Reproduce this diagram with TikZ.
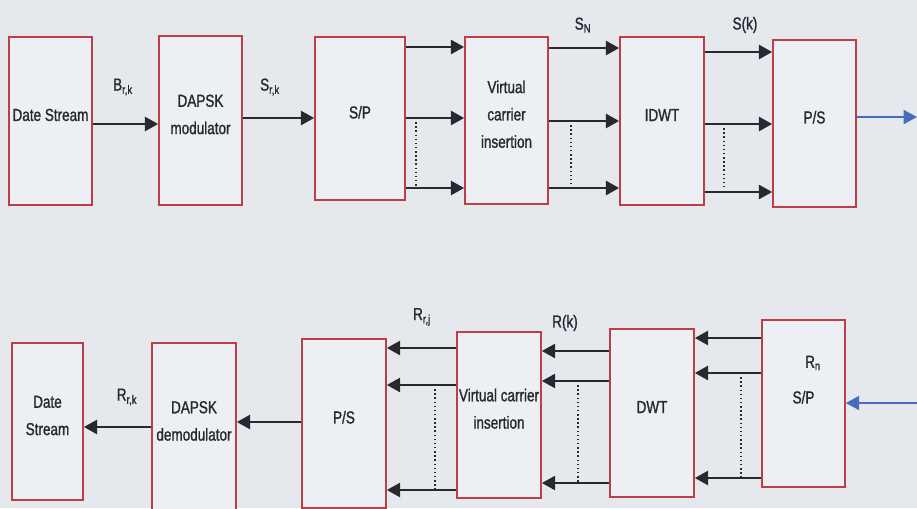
\documentclass[tikz,border=0pt]{standalone}
\usepackage{fontspec}
\setmainfont{Liberation Sans}[FakeStretch=0.78,FakeBold=1.2]
\usetikzlibrary{arrows.meta,fit}

\definecolor{paper}{RGB}{229,233,238}
\definecolor{boxfill}{RGB}{236,239,243}
\definecolor{boxred}{RGB}{190,62,72}
\definecolor{wire}{RGB}{40,40,48}
\definecolor{linkblue}{RGB}{72,108,188}

\tikzset{every picture/.style={line width=0.75pt}}
\tikzset{
  block/.style={draw=boxred, fill=boxfill, line width=1.2pt, inner sep=0pt, align=center, text=wire, font=\fontsize{13}{20.5}\selectfont},
  flow/.style={draw=wire, line width=2pt, -{Triangle[length=10pt,width=10.5pt]}},
  link/.style={draw=linkblue, line width=1.2pt, -{Triangle[length=10pt,width=10.5pt]}},
  tap/.style={draw=wire, dotted, line width=1.1pt},
  sig/.style={inner sep=0.75pt, text=wire, font=\fontsize{13}{14}\selectfont},
}

\begin{document}
\begin{tikzpicture}[x=0.75pt,y=0.75pt,yscale=-1,xscale=1]
\useasboundingbox (0,0) rectangle (917,508);
\fill [paper] (0,0) rectangle (917,508);
\clip (0,0) rectangle (917,508);

%Transmitter blocks
\node [block, fit={(9,37) (92,205)}] (ds) {Date Stream};
\node [block, fit={(159,36) (242,205)}] (mod) {DAPSK\\modulator};
\node [block, fit={(315,37) (405,200)}] (sp) {S/P};
\node [block, fit={(465,37) (548,204)}] (vc) {Virtual\\carrier\\insertion};
\node [block, fit={(620,37) (704,205)}] (idwt) {IDWT};
\node [block, fit={(773,40) (856,207)}] (ps) {P/S};
\coordinate (txout) at (917,117);

%Receiver blocks
\node [block, fit={(12,343) (83,500)}] (ds2) {Date\\Stream};
\node [block, fit={(152,343) (236,511)}] (demod) {DAPSK\\demodulator};
\node [block, fit={(302,339) (386,508)}] (ps2) {P/S};
\node [block, fit={(457,332) (541,498)}] (vc2) {Virtual carrier\\insertion};
\node [block, fit={(610,329) (694,497)}] (dwt) {DWT};
\node [block, fit={(762,320) (845,487)}] (sp2) {S/P};
\coordinate (rxin) at (917,403);

%Transmitter connections
\draw [flow] (ds.east |- 0,124) -- (mod.west |- 0,124);
\draw [flow] (mod.east |- 0,118) -- (sp.west |- 0,118);
\draw [flow] (sp.east |- 0,47) -- (vc.west |- 0,47);
\draw [flow] (sp.east |- 0,118) -- (vc.west |- 0,118);
\draw [flow] (sp.east |- 0,188) -- (vc.west |- 0,188);
\draw [tap] (416,118) -- (416,186);
\draw [flow] (vc.east |- 0,48) -- (idwt.west |- 0,48);
\draw [flow] (vc.east |- 0,121) -- (idwt.west |- 0,121);
\draw [flow] (vc.east |- 0,188) -- (idwt.west |- 0,188);
\draw [tap] (571,121) -- (571,186);
\draw [flow] (idwt.east |- 0,52) -- (ps.west |- 0,52);
\draw [flow] (idwt.east |- 0,124) -- (ps.west |- 0,124);
\draw [flow] (idwt.east |- 0,192) -- (ps.west |- 0,192);
\draw [tap] (724,124) -- (724,190);
\draw [link] (ps.east |- txout) -- (txout);

%Receiver connections
\draw [link] (rxin) -- (rxin -| sp2.east);
\draw [flow] (sp2.west |- 0,338) -- (dwt.east |- 0,338);
\draw [flow] (sp2.west |- 0,373) -- (dwt.east |- 0,373);
\draw [flow] (sp2.west |- 0,478) -- (dwt.east |- 0,478);
\draw [tap] (741,373) -- (741,478);
\draw [flow] (dwt.west |- 0,351) -- (vc2.east |- 0,351);
\draw [flow] (dwt.west |- 0,381) -- (vc2.east |- 0,381);
\draw [flow] (dwt.west |- 0,483) -- (vc2.east |- 0,483);
\draw [tap] (578,381) -- (578,483);
\draw [flow] (vc2.west |- 0,348) -- (ps2.east |- 0,348);
\draw [flow] (vc2.west |- 0,385) -- (ps2.east |- 0,385);
\draw [flow] (vc2.west |- 0,490) -- (ps2.east |- 0,490);
\draw [tap] (435,385) -- (435,490);
\draw [flow] (ps2.west |- 0,422) -- (demod.east |- 0,422);
\draw [flow] (demod.west |- 0,427) -- (ds2.east |- 0,427);

% Text Node
\node [sig] (bl) at (123,87) {B\textsubscript{r,k}};
% Text Node
\node [sig] (sl) at (270,87) {S\textsubscript{r,k}};
% Text Node
\node [sig] (snl) at (583,25) {S\textsubscript{N}};
% Text Node
\node [sig] (skl) at (745,25) {S(k)};
% Text Node
\node [sig] (rkl) at (127,397) {R\textsubscript{r,k}};
% Text Node
\node [sig] (rjl) at (422,317) {R\textsubscript{r,j}};
% Text Node
\node [sig] (rxl) at (565,323) {R(k)};
% Text Node
\node [sig] (rnl) at (813,363) {R\textsubscript{n}};

\end{tikzpicture}
\end{document}
